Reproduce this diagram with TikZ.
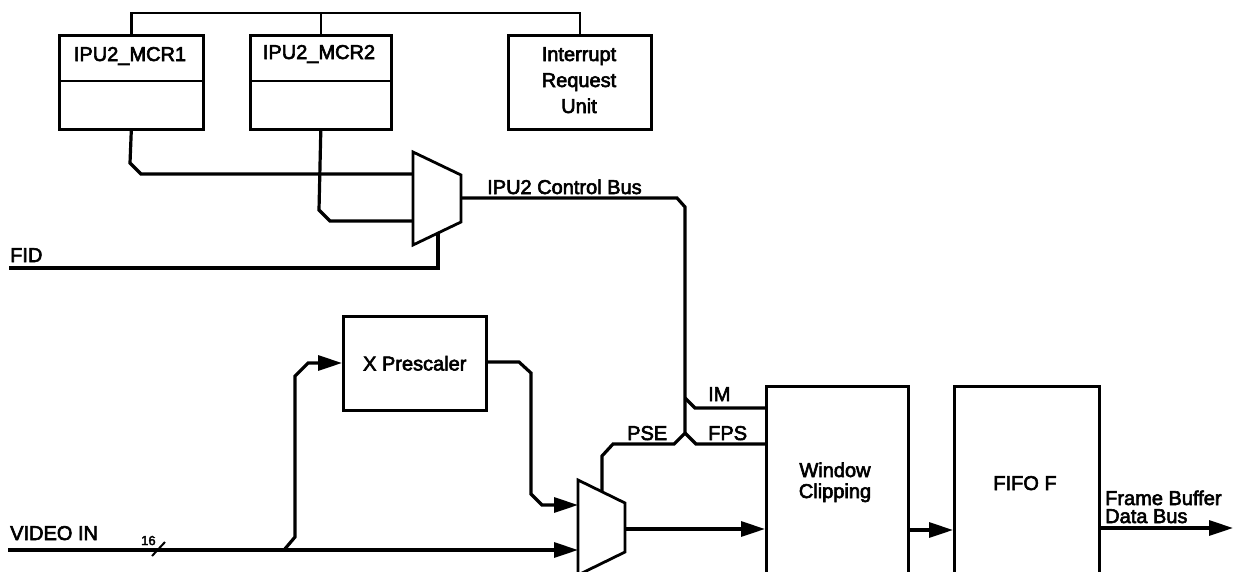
\documentclass[tikz,border=0pt]{standalone}
\usepackage{fontspec}
\setmainfont{Liberation Sans}
\newfontfamily\lblfont{Liberation Sans}[FakeBold=3]
\usetikzlibrary{arrows.meta}
\begin{document}
\begin{tikzpicture}[x=1pt,y=-1pt,
  wire/.style={line width=3.2pt, line join=miter},
  buswire/.style={line width=2.4pt},
  arr/.style={wire,-{Triangle[length=24pt,width=15pt]}},
  blk/.style={draw, line width=2.6pt, inner sep=0pt},
  muxshape/.style={draw, line width=2.8pt, fill=white, line join=miter},
  lbl/.style={font=\lblfont\fontsize{20}{24}\selectfont, inner sep=0pt},
]
\useasboundingbox (0,0) rectangle (1233,571);
\clip (0,0) rectangle (1233,571);

% ---------- register boxes ----------
\node[blk, minimum width=144pt, minimum height=94pt, anchor=north west] (mcr1) at (58,34) {};
\node[blk, minimum width=141pt, minimum height=94pt, anchor=north west] (mcr2) at (249,34) {};
\node[blk, minimum width=143pt, minimum height=94pt, anchor=north west] (irq) at (507,34) {};
\draw[line width=2.6pt] (58,81) -- (202,81);
\draw[line width=2.6pt] (249,81) -- (390,81);
\node[lbl, anchor=base] (mcr1t) at (130,61) {IPU2\_MCR1};
\node[lbl, anchor=base] (mcr2t) at (319,59) {IPU2\_MCR2};
\node[lbl, anchor=base] (irq1) at (579,61) {Interrupt};
\node[lbl, anchor=base] (irq2) at (579,87) {Request};
\node[lbl, anchor=base] (irq3) at (579,113) {Unit};

% top bus
\draw[buswire] (mcr1.north) -- ++(0,-21) -| (irq.north);
\draw[buswire] (mcr2.north) -- (mcr2.north |- 0,13);

% ---------- mux 1 ----------
\coordinate (m1a) at (413,152);
\coordinate (m1b) at (461,175);
\coordinate (m1c) at (461,222);
\coordinate (m1d) at (413,245);
\coordinate (m1in1) at (413,174);
\coordinate (m1in2) at (413,221);
\coordinate (m1sel) at (438,233);
\coordinate (m1out) at (461,198);

\draw[wire] (mcr1.south) -- (130,163) -- (141,174) -- (m1in1);
\draw[wire] (mcr2.south) -- (319,210) -- (330,221) -- (m1in2);
\coordinate (fid) at (9,268);
\draw[wire] (fid) -- (438,268) -- (m1sel);
\draw[muxshape] (m1a) -- (m1b) -- (m1c) -- (m1d) -- cycle;
\node[lbl, anchor=base west] (fidt) at (10,262) {FID};
\node[lbl, anchor=base west] (cbus) at (487,194) {IPU2 Control Bus};

% ---------- X prescaler ----------
\node[blk, minimum width=143pt, minimum height=94pt, anchor=north west,
      font=\lblfont\fontsize{20}{24}\selectfont] (presc) at (342,315) {X Prescaler};

% ---------- mux 2 ----------
\coordinate (m2a) at (578,480);
\coordinate (m2b) at (625,503);
\coordinate (m2c) at (625,552);
\coordinate (m2d) at (578,575);
\coordinate (m2in1) at (578,505);
\coordinate (m2in2) at (578,550);
\coordinate (m2sel) at (602,492);
\coordinate (m2out) at (625,529);

% ---------- window clipping & FIFO ----------
\node[blk, minimum width=142pt, minimum height=250pt, anchor=north west] (win) at (765,385) {};
\node[blk, minimum width=145pt, minimum height=250pt, anchor=north west] (fifo) at (953,385) {};
\node[lbl, anchor=base] (wint1) at (835,477) {Window};
\node[lbl, anchor=base] (wint2) at (835,498) {Clipping};
\node[lbl, anchor=base] (fifot) at (1025,490) {FIFO F};
\node[lbl, anchor=base west] (fb1) at (1105,505) {Frame Buffer};
\node[lbl, anchor=base west] (fb2) at (1105,523) {Data Bus};

% video in
\coordinate (vin) at (8,550);
\coordinate (vbr) at (284,550);
\draw[arr] (vin) -- (m2in2);
\node[lbl, anchor=base west] (vint) at (10,540) {VIDEO IN};
\node[font=\lblfont\fontsize{13}{15}\selectfont, inner sep=0pt, anchor=base west] (w16) at (141,545) {16};
\draw[line width=2pt] (152,556) -- (165,542);

% branch to prescaler
\draw[arr] (vbr) -- (295,537) -- (295,376) -- (308,363) -- (presc.west |- 0,363);
% prescaler output
\draw[arr] (presc.east |- 0,362) -- (519,362) -- (531,373) -- (531,494) -- (542,505) -- (m2in1);

% control bus
\draw[wire] (m1out) -- (677,198) -- (685,207) -- (685,433) -- (674,444) -- (613,444) -- (602,456) -- (m2sel);
\draw[wire] (685,398) -- (695,408) -- (win.west |- 0,408);
\draw[wire] (685,433) -- (696,444) -- (win.west |- 0,444);
\node[lbl, anchor=base west] (imt) at (708,401) {IM};
\node[lbl, anchor=base west] (pset) at (627,440) {PSE};
\node[lbl, anchor=base west] (fpst) at (708,440) {FPS};

\draw[muxshape] (m2a) -- (m2b) -- (m2c) -- (m2d) -- cycle;

% data path
\draw[arr] (m2out) -- (win.west |- m2out);
\draw[arr] (win.east |- 0,530) -- (fifo.west |- 0,530);
\coordinate (fbout) at (1233,528);
\draw[arr] (fifo.east |- fbout) -- (fbout);
\end{tikzpicture}
\end{document}
